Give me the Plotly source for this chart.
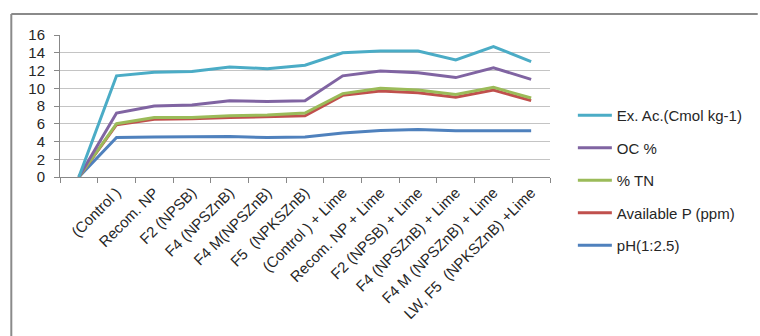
import plotly.graph_objects as go

categories = [" ", "(Control )", "Recom. NP", "F2 (NPSB)", "F4 (NPSZnB)", "F4 M(NPSZnB)",
              "F5  (NPKSZnB)", "(Control ) + Lime", "Recom. NP + Lime", "F2 (NPSB) + Lime",
              "F4 (NPSZnB) + Lime", "F4 M (NPSZnB) + Lime", "LW, F5  (NPKSZnB) +Lime"]

ex_ac = [0, 11.4, 11.8, 11.9, 12.4, 12.2, 12.6, 14.0, 14.2, 14.2, 13.2, 14.7, 13.0]
oc = [0, 7.2, 8.0, 8.1, 8.6, 8.5, 8.6, 11.4, 11.95, 11.75, 11.2, 12.3, 11.0]
tn = [0, 6.0, 6.7, 6.7, 6.9, 7.0, 7.2, 9.4, 10.0, 9.8, 9.3, 10.1, 8.9]
avail_p = [0, 5.9, 6.5, 6.55, 6.7, 6.8, 6.9, 9.2, 9.7, 9.5, 9.0, 9.8, 8.6]
ph = [0, 4.45, 4.5, 4.5, 4.57, 4.45, 4.5, 4.95, 5.25, 5.35, 5.2, 5.2, 5.2]

series = [
    ("pH(1:2.5)", ph, "#4f81bd", 5),
    ("Available P (ppm)", avail_p, "#c0504d", 4),
    ("% TN", tn, "#9bbb59", 3),
    ("OC %", oc, "#8064a2", 2),
    ("Ex. Ac.(Cmol kg-1)", ex_ac, "#4bacc6", 1),
]

fig = go.Figure()
for name, vals, color, rank in series:
    fig.add_trace(go.Scatter(x=categories, y=vals, mode="lines", name=name,
                             legendgroup=name, legendrank=rank,
                             line=dict(color=color, width=3)))

W, H = 760, 336
L, R, T, B = 60, 207, 35, 159
pw, ph_ = W - L - R, H - T - B

def px(x):
    return (x - L) / pw

def py(y):
    return (H - B - y) / ph_

fig.update_layout(
    width=W, height=H,
    margin=dict(l=L, r=R, t=T, b=B),
    paper_bgcolor="white", plot_bgcolor="white",
    font=dict(family="Liberation Sans", size=12, color="#262626"),
    showlegend=True,
    legend=dict(traceorder="grouped", x=px(576), y=py(99), xanchor="left", yanchor="top",
                font=dict(size=15, color="#262626"), itemwidth=34, tracegroupgap=10,
                maxheight=400, bgcolor="rgba(0,0,0,0)"),
    xaxis=dict(type="category", tickson="boundaries", ticks="outside", ticklen=5,
               range=[-0.5, 12.5],
               tickcolor="#888888", showline=True, linecolor="#888888", linewidth=1,
               showgrid=False, tickangle=-45, tickfont=dict(size=15, color="#262626"),
               fixedrange=True),
    yaxis=dict(range=[0, 16], dtick=2, showgrid=True, gridcolor="#c4c4c4", gridwidth=1,
               showline=True, linecolor="#888888", linewidth=1, ticks="outside", ticklen=5,
               tickcolor="#888888", tickfont=dict(size=15, color="#262626"), zeroline=False,
               ticklabelstandoff=6),
    shapes=[
        dict(type="line", xref="paper", yref="paper", x0=px(11), x1=px(762), y0=py(14), y1=py(14),
             line=dict(color="#8a8a8a", width=2)),
        dict(type="line", xref="paper", yref="paper", x0=px(11), x1=px(11), y0=py(14), y1=py(340),
             line=dict(color="#8a8a8a", width=2)),
    ],
)

fig.write_html("out.html")
